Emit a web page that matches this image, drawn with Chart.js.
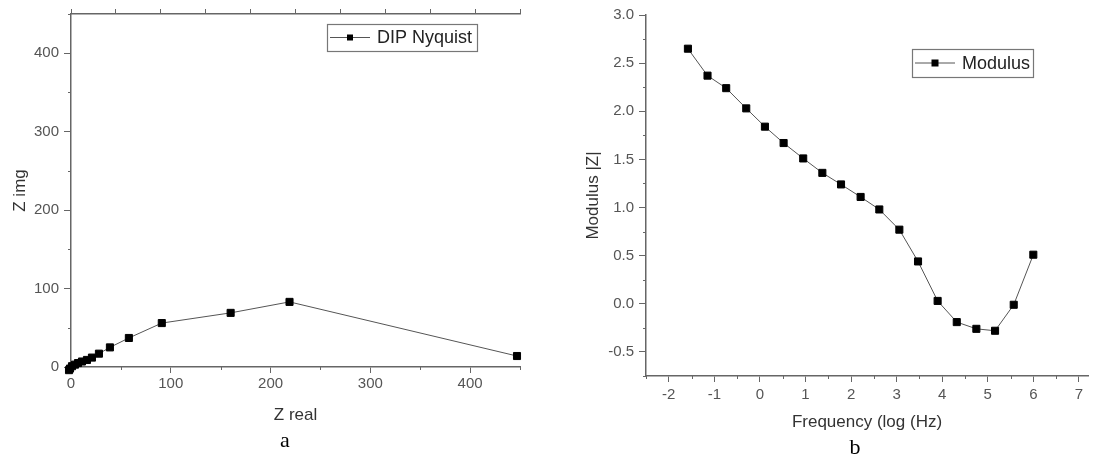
<!DOCTYPE html>
<html><head><meta charset="utf-8">
<script src="https://cdn.jsdelivr.net/npm/chart.js@4/dist/chart.umd.min.js"></script>
<style>
html,body{margin:0;padding:0;background:#fff;width:1094px;height:458px;overflow:hidden;position:relative;font-family:"Liberation Sans",Arial,sans-serif}
#wa{position:absolute;left:0;top:0;width:540px;height:458px}
#wb{position:absolute;left:540px;top:0;width:554px;height:458px}
.cap{position:absolute;font-family:"Liberation Serif","Times New Roman",serif;font-size:22px;color:#000;transform:translate(-50%,-50%);line-height:1}
</style></head><body>
<div id="wa"><canvas id="ca" width="540" height="458"></canvas></div>
<div id="wb"><canvas id="cb" width="554" height="458"></canvas></div>
<div class="cap" style="left:285px;top:440px">a</div>
<div class="cap" style="left:855px;top:447px">b</div>
<script>
// ---- Data: chart a (Nyquist) ----
const nyqLabel = 'DIP Nyquist';
const nyqReal = [447, 219, 160, 91, 58, 39, 28, 21, 16, 11, 7, 4, 1, -1, -2];
const nyqImg  = [14, 83, 69, 56, 37, 25, 17, 12, 9, 7, 5, 3, 1, -2, -4];
const nyqXTicks = [0, 100, 200, 300, 400];
const nyqYTicks = [0, 100, 200, 300, 400];

// ---- Data: chart b (Modulus) ----
const modLabel = 'Modulus';
const modFreq = [-1.58, -1.15, -0.74, -0.30, 0.11, 0.52, 0.95, 1.37, 1.78, 2.21, 2.62, 3.06, 3.47, 3.90, 4.32, 4.75, 5.16, 5.57, 6.00];
const modVal  = [2.65, 2.37, 2.24, 2.03, 1.84, 1.67, 1.51, 1.36, 1.24, 1.11, 0.98, 0.77, 0.44, 0.03, -0.19, -0.26, -0.28, -0.01, 0.51];
const modXTicks = [-2, -1, 0, 1, 2, 3, 4, 5, 6, 7];
const modYTicks = [-0.5, 0, 0.5, 1.0, 1.5, 2.0, 2.5, 3.0];

const AXIS = '#666';
const TICKTXT = '#555';
const TITLETXT = '#333';
const tickFont = {family: '"Liberation Sans", Arial, sans-serif', size: 15};
const titleFont = {family: '"Liberation Sans", Arial, sans-serif', size: 17};

const minorTicks = {
  id: 'minorTicks',
  afterDraw(chart, args, opts) {
    const ctx = chart.ctx;
    ctx.save();
    ctx.strokeStyle = AXIS; ctx.lineWidth = 1;
    for (const id of Object.keys(opts.steps || {})) {
      const s = chart.scales[id]; const step = opts.steps[id];
      const majors = s.ticks.map(t => t.value);
      for (let k = Math.ceil(s.min / step); k * step <= s.max + 1e-9; k++) {
        const v = k * step;
        if (majors.some(m => Math.abs(m - v) < 1e-9)) continue;
        const p = Math.round(s.getPixelForValue(v)) + 0.5;
        ctx.beginPath();
        if (s.isHorizontal()) { ctx.moveTo(p, chart.chartArea.bottom); ctx.lineTo(p, chart.chartArea.bottom + opts.len); }
        else { ctx.moveTo(chart.chartArea.left - opts.len, p); ctx.lineTo(chart.chartArea.left, p); }
        ctx.stroke();
      }
    }
    ctx.restore();
  }
};

const boxLegend = {
  id: 'boxLegend',
  afterDraw(chart, args, o) {
    const ctx = chart.ctx; const ds = chart.data.datasets[0];
    ctx.save();
    ctx.fillStyle = '#fff';
    ctx.fillRect(o.x, o.y, o.w, o.h);
    ctx.strokeStyle = '#777'; ctx.lineWidth = 1.2;
    ctx.strokeRect(o.x + 0.5, o.y + 0.5, o.w, o.h);
    const cy = o.y + o.h / 2;
    ctx.strokeStyle = '#555'; ctx.lineWidth = 1;
    ctx.beginPath(); ctx.moveTo(o.x + 3, cy); ctx.lineTo(o.x + 3 + o.lineLen, cy); ctx.stroke();
    const mx = o.x + 3 + o.lineLen / 2;
    ctx.fillStyle = '#000';
    ctx.fillRect(mx - o.marker / 2, cy - o.marker / 2, o.marker, o.marker);
    ctx.fillStyle = '#222';
    ctx.font = '18px "Liberation Sans", Arial, sans-serif';
    ctx.textBaseline = 'middle'; ctx.textAlign = 'left';
    ctx.fillText(ds.label, o.x + o.textX, cy + 1);
    ctx.restore();
  }
};

function setTicks(arr) { return function (s) { s.ticks = arr.map(v => ({value: v})); }; }

function lineDataset(label, xs, ys) {
  return {
    label,
    data: xs.map((x, i) => ({x, y: ys[i]})),
    showLine: true,
    borderColor: '#555',
    borderWidth: 1,
    tension: 0,
    pointStyle: 'rect',
    pointRadius: 5,
    pointBackgroundColor: '#000',
    pointBorderColor: '#000',
    pointBorderWidth: 1,
    clip: false
  };
}

// ---- Chart a ----
new Chart(document.getElementById('ca'), {
  type: 'line',
  data: {datasets: [lineDataset(nyqLabel, nyqReal, nyqImg)]},
  plugins: [minorTicks, boxLegend],
  options: {
    responsive: false, animation: false, events: [],
    layout: {padding: {top: 7, left: 0, right: 20, bottom: 0}},
    plugins: {
      legend: {display: false}, tooltip: {enabled: false},
      minorTicks: {steps: {x: 50, y: 50}, len: 3},
      boxLegend: {x: 327, y: 24, w: 150, h: 27, lineLen: 40, marker: 6, textX: 50}
    },
    scales: {
      x: {
        type: 'linear', position: 'bottom', min: 0, max: 450,
        afterBuildTicks: setTicks(nyqXTicks),
        afterFit(s) { s.height = 91; },
        ticks: {font: tickFont, color: TICKTXT, padding: 2, maxRotation: 0, callback: v => String(v)},
        grid: {drawOnChartArea: false, tickLength: 6, color: AXIS},
        border: {color: AXIS, width: 1.5},
        title: {display: true, text: 'Z real', font: titleFont, color: TITLETXT, padding: {top: 0, bottom: 32.8}}
      },
      x2: {
        type: 'linear', position: 'top', min: 0, max: 450,
        afterFit(s) { s.height = 0; },
        ticks: {display: false, stepSize: 45},
        grid: {drawOnChartArea: false, tickLength: 5, color: AXIS},
        border: {color: AXIS, width: 1.5}
      },
      y: {
        type: 'linear', position: 'left', min: 0, max: 450,
        afterBuildTicks: setTicks(nyqYTicks),
        afterFit(s) { s.width = 71; },
        ticks: {font: tickFont, color: TICKTXT, padding: 5, callback: v => String(v)},
        grid: {drawOnChartArea: false, tickLength: 7, color: AXIS},
        border: {color: AXIS, width: 1.5},
        title: {display: true, text: 'Z img', font: titleFont, color: TITLETXT, padding: {top: 9.8, bottom: 0}}
      }
    }
  }
});

// ---- Chart b ----
new Chart(document.getElementById('cb'), {
  type: 'line',
  data: {datasets: [lineDataset(modLabel, modFreq, modVal)]},
  plugins: [minorTicks, boxLegend],
  options: {
    responsive: false, animation: false, events: [],
    layout: {padding: {top: 15, left: 0, right: 1, bottom: 0}},
    plugins: {
      legend: {display: false}, tooltip: {enabled: false},
      minorTicks: {steps: {x: 0.5, y: 0.25}, len: 3},
      boxLegend: {x: 372, y: 49, w: 121, h: 28, lineLen: 40, marker: 7, textX: 50}
    },
    scales: {
      x: {
        type: 'linear', position: 'bottom', min: -2.5, max: 7.2,
        afterBuildTicks: setTicks(modXTicks),
        afterFit(s) { s.height = 82; },
        ticks: {font: tickFont, color: TICKTXT, padding: 4, maxRotation: 0, callback: v => String(v)},
        grid: {drawOnChartArea: false, tickLength: 6, color: AXIS},
        border: {color: AXIS, width: 1.5},
        title: {display: true, text: 'Frequency (log (Hz)', font: titleFont, color: TITLETXT, padding: {top: 0, bottom: 25.8}}
      },
      y: {
        type: 'linear', position: 'left', min: -0.75, max: 3.0,
        afterBuildTicks: setTicks(modYTicks),
        afterFit(s) { s.width = 106; },
        ticks: {font: tickFont, color: TICKTXT, padding: 5, callback: v => Number(v).toFixed(1)},
        grid: {drawOnChartArea: false, tickLength: 7, color: AXIS},
        border: {color: AXIS, width: 1.5},
        title: {display: true, text: 'Modulus |Z|', font: titleFont, color: TITLETXT, padding: {top: 42.8, bottom: 0}}
      }
    }
  }
});
</script>
</body></html>
